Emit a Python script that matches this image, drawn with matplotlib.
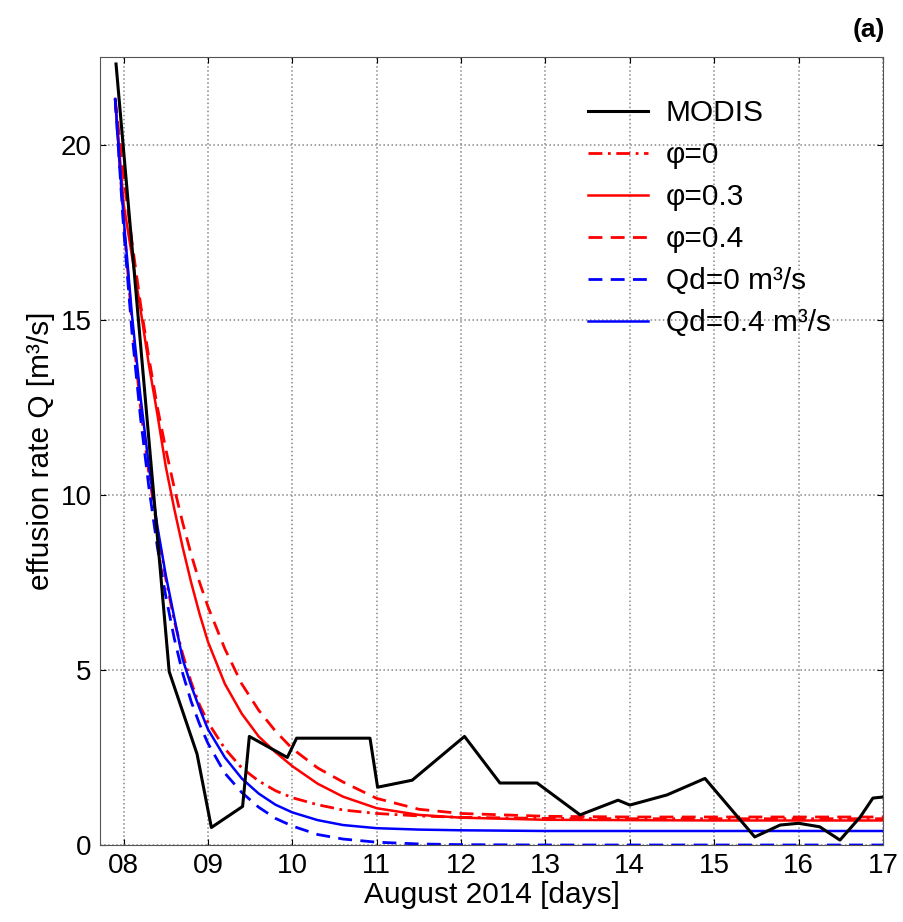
import numpy as np
import matplotlib
matplotlib.use("Agg")
import matplotlib.pyplot as plt

plt.rcParams['font.family'] = ['Liberation Sans', 'DejaVu Sans']

# MODIS effusion rate
modis_t = [7.91, 8.54, 8.87, 9.04, 9.41, 9.49, 9.94, 10.05, 10.92, 11.01, 11.42,
           12.04, 12.46, 12.90, 13.41, 13.86, 14.00, 14.44, 14.89, 15.48, 15.78,
           16.00, 16.25, 16.49, 16.73, 16.88, 17.00]
modis_q = [22.3, 4.95, 2.6, 0.5, 1.1, 3.1, 2.5, 3.05, 3.05, 1.65, 1.85,
           3.1, 1.77, 1.77, 0.86, 1.28, 1.14, 1.43, 1.9, 0.23, 0.57,
           0.62, 0.52, 0.14, 0.8, 1.34, 1.37]

# model curves, sampled times
t_mod = [7.9, 8.0, 8.1, 8.2, 8.3, 8.4, 8.5, 8.6, 8.7, 8.8, 8.9, 9.0, 9.2, 9.4,
         9.6, 9.8, 10.0, 10.3, 10.6, 11.0, 11.5, 12.0, 13.0, 14.0, 15.0, 16.0, 17.0]
phi0 = [21.3, 17.8, 14.9, 12.5, 10.6, 9.0, 7.6, 6.4, 5.45, 4.65, 4.0, 3.5, 2.75, 2.2,
        1.83, 1.55, 1.35, 1.15, 1.0, 0.9, 0.83, 0.79, 0.76, 0.75, 0.75, 0.75, 0.75]
phi03 = [21.3, 18.3, 16.8, 15.3, 13.7, 12.3, 10.8, 9.6, 8.5, 7.5, 6.6, 5.8, 4.6, 3.75,
         3.1, 2.65, 2.25, 1.75, 1.38, 1.05, 0.86, 0.78, 0.72, 0.71, 0.7, 0.7, 0.7]
phi04 = [21.3, 19.1, 17.2, 15.45, 13.9, 12.5, 11.3, 10.2, 9.2, 8.3, 7.5, 6.8, 5.6, 4.6,
         3.85, 3.25, 2.75, 2.2, 1.8, 1.33, 1.02, 0.9, 0.82, 0.8, 0.8, 0.8, 0.8]
qd0 = [21.3, 17.6, 14.6, 12.2, 10.2, 8.5, 7.1, 5.9, 4.9, 4.1, 3.45, 2.9, 2.05, 1.5,
       1.08, 0.76, 0.54, 0.3, 0.17, 0.08, 0.03, 0.01, 0.0, 0.0, 0.0, 0.0, 0.0]
qd04 = [21.3, 17.9, 15.1, 12.8, 10.8, 9.1, 7.7, 6.5, 5.3, 4.55, 3.9, 3.3, 2.5, 1.9,
        1.47, 1.15, 0.93, 0.71, 0.57, 0.48, 0.44, 0.42, 0.4, 0.4, 0.4, 0.4, 0.4]

day_ticks = [8, 9, 10, 11, 12, 13, 14, 15, 16, 17]
day_labels = ['08', '09', '10', '11', '12', '13', '14', '15', '16', '17']

fig = plt.figure(figsize=(9.04, 9.22), dpi=100)
ax = fig.add_axes([100/904, 1-845/922, 783/904, 788/922])

ax.plot(modis_t, modis_q, color='black', lw=2.2, label='MODIS', zorder=5)
ax.plot(t_mod, phi0, color='red', lw=2, dashes=(5, 2, 1, 2), label='φ=0')
ax.plot(t_mod, phi03, color='red', lw=1.8, label='φ=0.3')
ax.plot(t_mod, phi04, color='red', lw=2, dashes=(5, 3), label='φ=0.4')
ax.plot(t_mod, qd0, color='blue', lw=2, dashes=(5, 3), label='Qd=0 m³/s')
ax.plot(t_mod, qd04, color='blue', lw=1.8, label='Qd=0.4 m³/s')

ax.set_xlim(7.72, 17)
ax.set_ylim(0, 22.5)
ax.set_xticks(day_ticks)
ax.set_xticklabels(day_labels)
ax.set_yticks([0, 5, 10, 15, 20])
ax.tick_params(direction='in', labelsize=20, length=4, top=True, right=True, pad=6)
ax.grid(True, ls=':', color='#888888', lw=1.1)
for s in ax.spines.values():
    s.set_color('#555555')

ax.set_xlabel('August 2014 [days]', fontsize=21.5, labelpad=1)
ax.set_ylabel('effusion rate Q [m³/s]', fontsize=21.5, labelpad=4)

ax.legend(loc='upper left', bbox_to_anchor=(588/904, 1-99/922),
          bbox_transform=fig.transFigure, frameon=False, fontsize=21.5,
          handlelength=2.0, handletextpad=0.6, labelspacing=0.47,
          borderpad=0, borderaxespad=0)

fig.text(885/904, 1-30/922, '(a)', fontsize=19, fontweight='bold',
         ha='right', va='center')

fig.savefig('out.png', dpi=100)
